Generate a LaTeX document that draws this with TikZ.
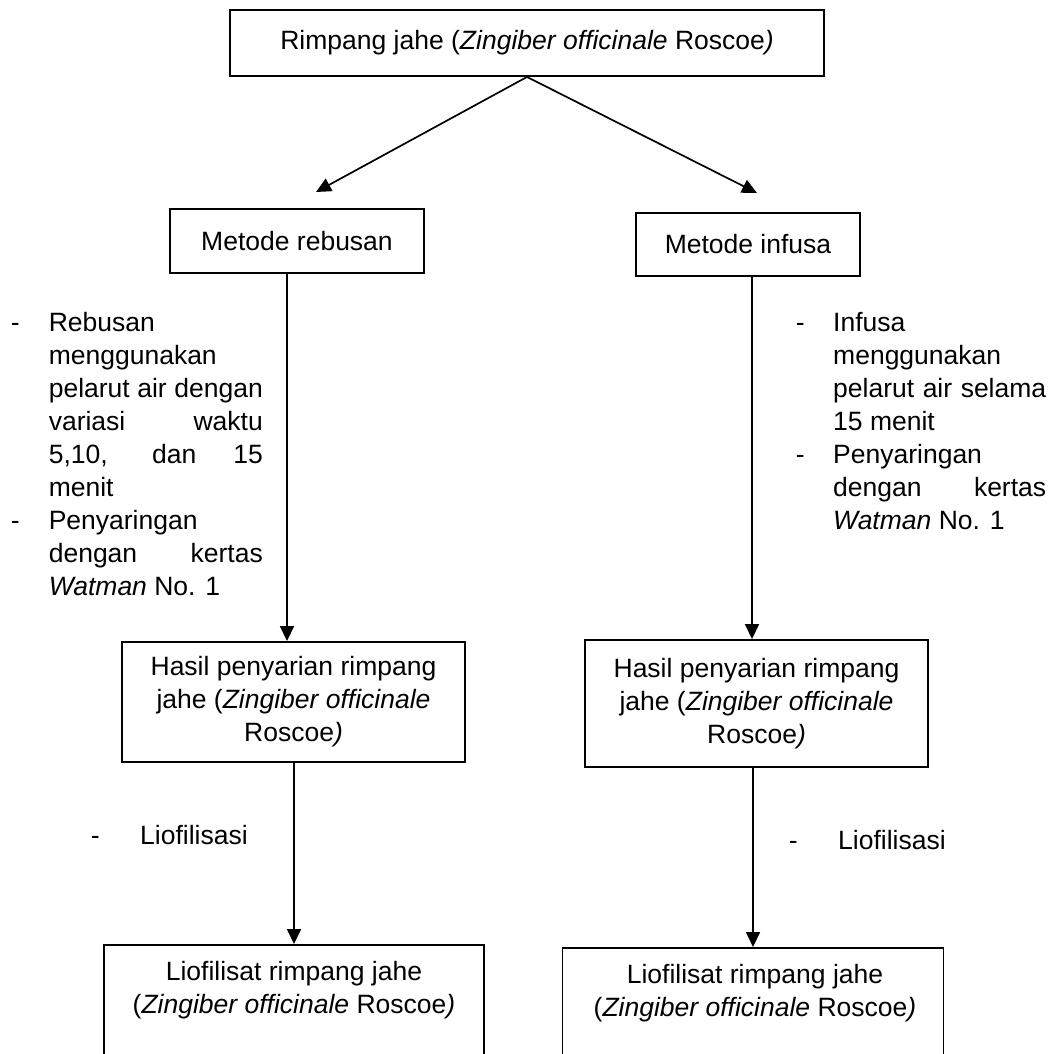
\documentclass[tikz,border=0pt]{standalone}
\usepackage{fontspec}
\setmainfont{Liberation Sans}
\usetikzlibrary{arrows.meta, positioning}
\newcommand{\spread}[1]{\makebox[\linewidth][s]{#1}}

\begin{document}
\begin{tikzpicture}[x=1pt, y=-1pt,
    font=\fontsize{26.5pt}{33pt}\selectfont,
    box/.style={draw, line width=1.9pt, align=center, inner sep=0pt},
    flow/.style={-{Triangle[length=15pt, width=14pt]}, line width=1.7pt},
    note/.style={anchor=north west, inner sep=0pt},
    stage/.style={anchor=west, inner sep=0pt}]

    \useasboundingbox (0,0) rectangle (1054,1054);
    \clip (0,0) rectangle (1054,1054);

    % Raw material
    \node[box, minimum width=594pt, minimum height=66pt] (rimpang) at (527,43)
        {Rimpang jahe (\textit{Zingiber officinale} Roscoe\textit{)}};

    % Extraction methods
    \node[box, minimum width=254pt, minimum height=64pt] (rebusan) at (297,241) {Metode rebusan};
    \node[box, minimum width=224pt, minimum height=63pt] (infusa) at (748,244.5) {Metode infusa};

    % Extracts
    \node[box, minimum width=343pt, minimum height=120pt] (hasilL) at (293.5,702)
        {Hasil penyarian rimpang\\jahe (\textit{Zingiber officinale}\\Roscoe\textit{)}};
    \node[box, minimum width=343pt, minimum height=127pt] (hasilR) at (756.5,703.5)
        {Hasil penyarian rimpang\\jahe (\textit{Zingiber officinale}\\Roscoe\textit{)}};

    % Lyophilisates (boxes run past the lower edge)
    \node[box, minimum width=380pt, minimum height=160pt, anchor=north] (liofL) at (294,944) {};
    \node[align=center, inner sep=0pt] (liofLtext) at (294,990.5)
        {Liofilisat rimpang jahe\\(\textit{Zingiber officinale} Roscoe\textit{)}};
    \node[box, minimum width=381pt, minimum height=160pt, anchor=north] (liofR) at (753,947) {};
    \node[align=center, inner sep=0pt] (liofRtext) at (755,993.5)
        {Liofilisat rimpang jahe\\(\textit{Zingiber officinale} Roscoe\textit{)}};

    % Process notes
    \node[note] (rebNote) at (10.6,308) {\begin{tabular}{@{}p{38pt}@{}p{214pt}@{}}
        - & Rebusan\\
          & menggunakan\\
          & \spread{pelarut air dengan}\\
          & \spread{variasi waktu}\\
          & \spread{5,10, dan 15}\\
          & menit\\
        - & Penyaringan\\
          & \spread{dengan kertas}\\
          & \textit{Watman} No. 1\\
    \end{tabular}};
    \node[note] (infNote) at (795.6,308) {\begin{tabular}{@{}p{37.4pt}@{}p{213pt}@{}}
        - & Infusa\\
          & menggunakan\\
          & \spread{pelarut air selama}\\
          & 15 menit\\
        - & Penyaringan\\
          & \spread{dengan kertas}\\
          & \textit{Watman} No. 1\\
    \end{tabular}};
    \node[stage] (liofStepL) at (90.6,835) {-\hspace{40.6pt}Liofilisasi};
    \node[stage] (liofStepR) at (788.6,840) {-\hspace{40.6pt}Liofilisasi};

    % Arrows
    \coordinate (tipL) at (316,192);
    \coordinate (tipR) at (757,193);
    \draw[flow] (rimpang.south) -- (tipL);
    \draw[flow] (rimpang.south) -- (tipR);
    \draw[flow] ([xshift=-10pt]rebusan.south) -- ([xshift=-6.5pt]hasilL.north);
    \draw[flow] ([xshift=4pt]infusa.south) -- ([xshift=-4.5pt]hasilR.north);
    \draw[flow] (liofL.north |- hasilL.south) -- (liofL.north);
    \draw[flow] (liofR.north |- hasilR.south) -- (liofR.north);
\end{tikzpicture}
\end{document}
